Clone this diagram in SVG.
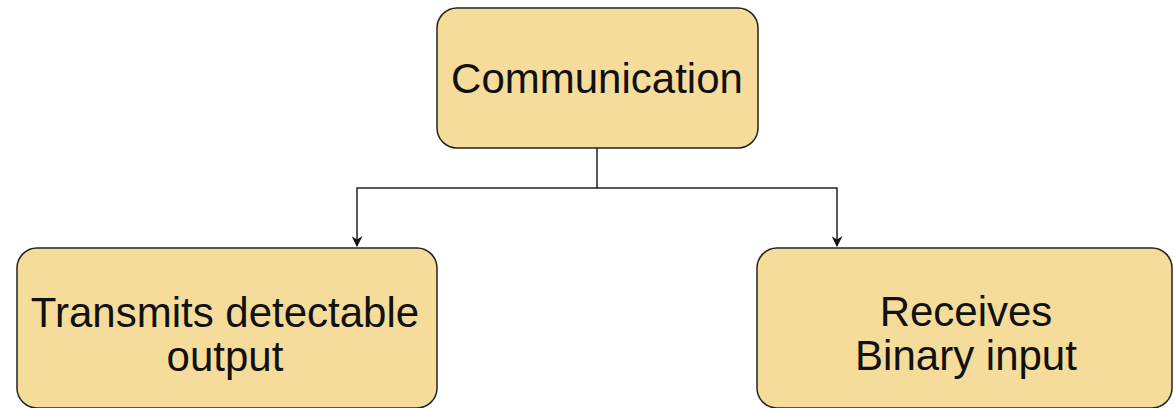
<svg xmlns="http://www.w3.org/2000/svg" width="1173" height="408" viewBox="0 0 1173 408">
<defs>
<style>
.box{fill:#f6dc9b;stroke:#222;stroke-width:1.5}
.lbl{font-family:"Liberation Sans",Arial,sans-serif;font-size:42px;fill:#111;text-anchor:middle}
.conn{fill:none;stroke:#222;stroke-width:1.5}
</style>
<marker id="arr" viewBox="0 0 10 10" refX="9" refY="5" markerWidth="13" markerHeight="11" markerUnits="userSpaceOnUse" orient="auto">
<path d="M0,0 L10,5 L0,10 L3,5 Z" fill="#111"/>
</marker>
</defs>
<rect width="1173" height="408" fill="#ffffff"/>
<g id="connectors">
<path class="conn" d="M597,148 V188 H357 V246" marker-end="url(#arr)"/>
<path class="conn" d="M597,188 H837 V246" marker-end="url(#arr)"/>
</g>
<g id="communication">
<rect class="box" x="437" y="8" width="321" height="140" rx="20"/>
<text class="lbl" x="597" y="93">Communication</text>
</g>
<g id="transmits">
<rect class="box" x="17" y="248" width="420" height="160" rx="20"/>
<text class="lbl" x="225" y="327">Transmits detectable</text>
<text class="lbl" x="225" y="371">output</text>
</g>
<g id="receives">
<rect class="box" x="757" y="248" width="415" height="160" rx="20"/>
<text class="lbl" x="966" y="326">Receives</text>
<text class="lbl" x="966" y="370">Binary input</text>
</g>
</svg>
